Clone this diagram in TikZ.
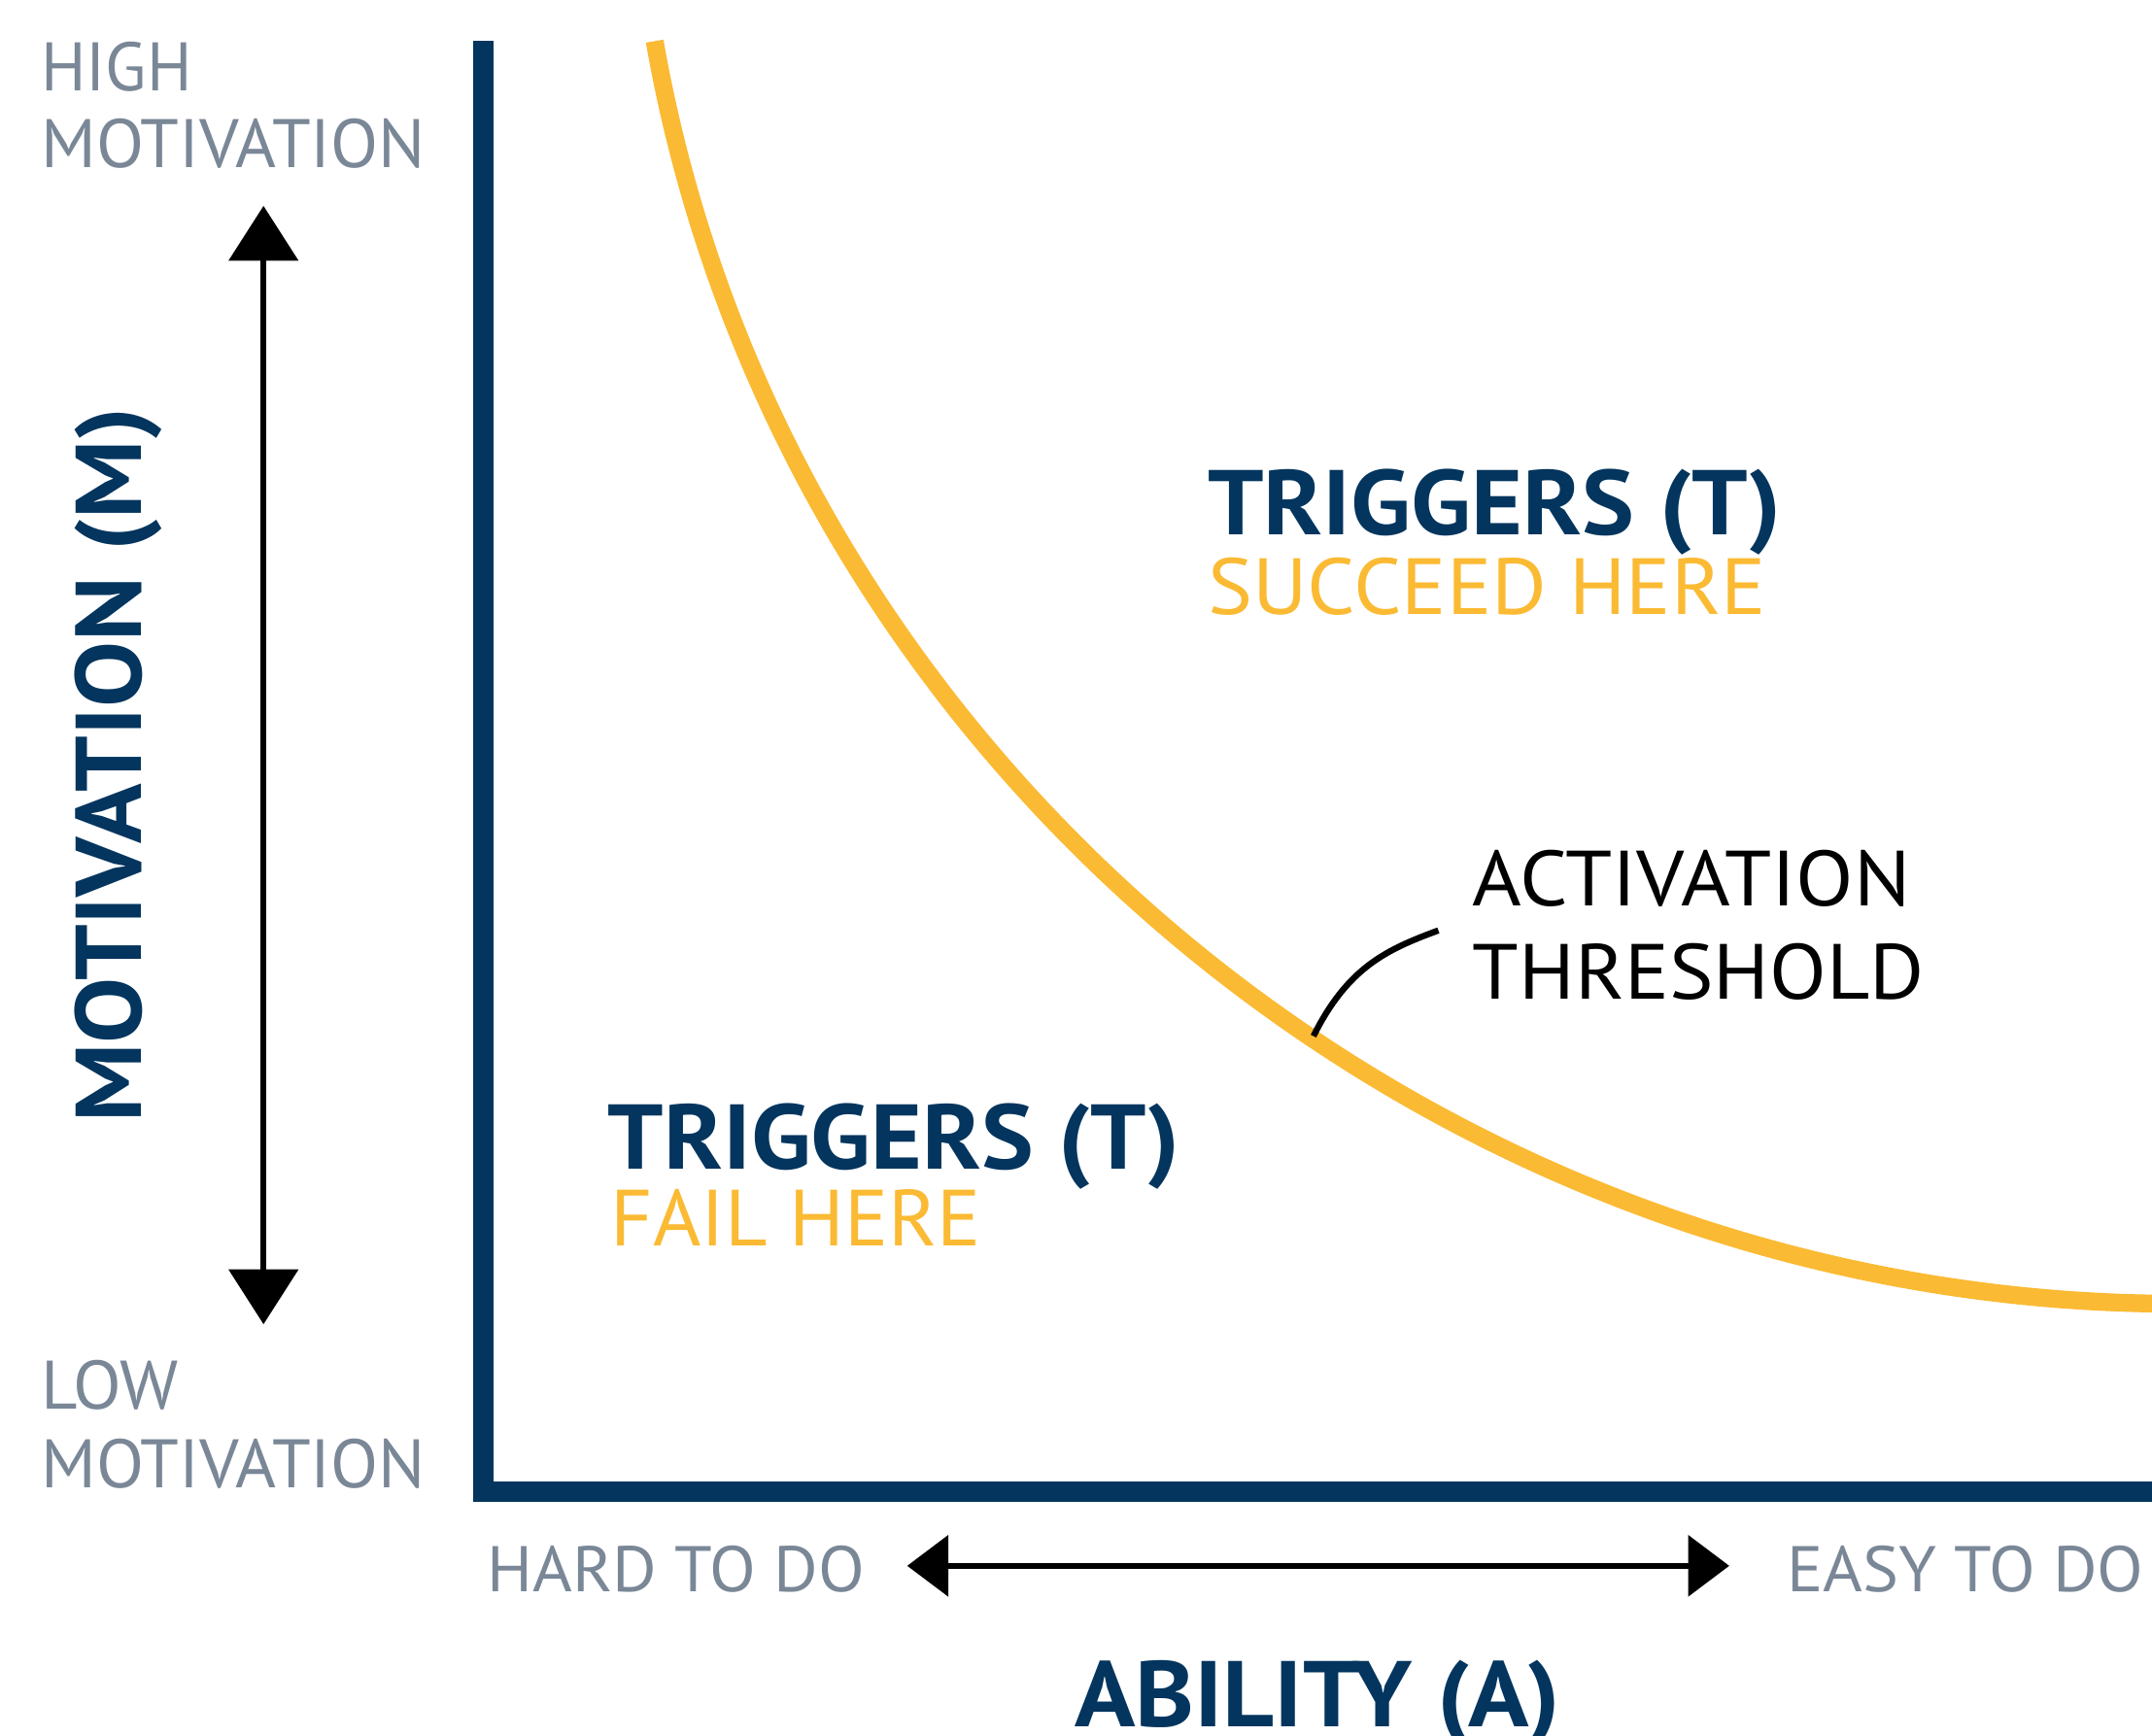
\documentclass[tikz,border=0pt]{standalone}
\usepackage{fontspec}
\setmainfont{PT Sans}
\usetikzlibrary{arrows.meta}

\definecolor{navy}{RGB}{3,53,94}
\definecolor{gold}{RGB}{251,186,51}
\definecolor{slate}{RGB}{122,135,151}

% set a label so that it spans a given width (in pt)
\newlength\fitlen
\newcommand\fitw[2]{\settowidth\fitlen{#2}\pgfmathsetmacro\fitsx{#1/\fitlen}\scalebox{\fitsx}[1]{#2}}

\newcommand\lblbig{\bfseries\fontsize{67}{70}\selectfont}
\newcommand\lblsub{\fontsize{58}{60}\selectfont}
\newcommand\lblnote{\fontsize{57}{60}\selectfont}
\newcommand\lblend{\fontsize{50}{52}\selectfont}
\newcommand\lblease{\fontsize{47}{50}\selectfont}
\newcommand\lblaxis{\bfseries\fontsize{68}{70}\selectfont}

\tikzset{
  lbl/.style={anchor=base west, inner sep=0pt, outer sep=0pt},
  axisline/.style={navy, line width=15pt},
  scaleline/.style={line width=4.5pt, black},
}

\begin{document}
\begin{tikzpicture}[x=1pt, y=-1pt]
  \useasboundingbox (0,0) rectangle (1568,1265);
  \clip (0,0) rectangle (1568,1265);
  \fill[white] (0,0) rectangle (1568,1265);

  % axes
  \coordinate (vtop) at (352,30);
  \coordinate (vbot) at (352,1094);
  \coordinate (hleft) at (345,1087);
  \coordinate (hright) at (1580,1087);
  \draw[axisline] (vtop) -- (vbot);
  \draw[axisline] (hleft) -- (hright);

  % activation threshold curve
  \coordinate (ctop) at (477,30);
  \coordinate (cend) at (1590,950);
  \draw[gold, line width=13pt] (ctop) .. controls (570,560) and (1050,952) .. (cend);

  % callout to the curve
  \coordinate (callA) at (957,755);
  \coordinate (callB) at (1048,678);
  \draw[line width=4.5pt] (callA) .. controls (982,705) and (1010,692) .. (callB);

  % motivation scale
  \coordinate (mtop) at (192,150);
  \coordinate (mbot) at (192,965);
  \draw[scaleline, {Triangle[length=40pt,width=50pt]}-{Triangle[length=40pt,width=50pt]}] (mtop) -- (mbot);

  % ability scale
  \coordinate (aleft) at (661,1141);
  \coordinate (aright) at (1260,1141);
  \draw[scaleline, {Triangle[length=30pt,width=44pt]}-{Triangle[length=30pt,width=44pt]}] (aleft) -- (aright);

  % end labels of the motivation scale
  \node[lbl, text=slate] (high1) at (30,66) {\fitw{110}{\lblend HIGH}};
  \node[lbl, text=slate] (high2) at (30,122) {\fitw{280}{\lblend MOTIVATION}};
  \node[lbl, text=slate] (low1) at (30,1027) {\fitw{100}{\lblend LOW}};
  \node[lbl, text=slate] (low2) at (30,1084) {\fitw{280}{\lblend MOTIVATION}};

  % end labels of the ability scale
  \node[lbl, text=slate] (hard) at (355,1160) {\fitw{275}{\lblease HARD TO DO}};
  \node[lbl, text=slate] (easy) at (1302,1160) {\fitw{260}{\lblease EASY TO DO}};

  % axis titles
  \node[lbl, text=navy, rotate=90] (mtitle) at (103,818) {\fitw{521}{\lblaxis MOTIVATION (M)}};
  \node[lbl, text=navy] (atitle) at (783,1258) {\fitw{354}{\lblaxis ABILITY (A)}};

  % regions
  \node[lbl, text=navy] (tsucc) at (880,390) {\fitw{418}{\lblbig TRIGGERS (T)}};
  \node[lbl, text=gold] (succ) at (880,448) {\fitw{407}{\lblsub SUCCEED HERE}};
  \node[lbl, text=navy] (tfail) at (443,852) {\fitw{417}{\lblbig TRIGGERS (T)}};
  \node[lbl, text=gold] (fail) at (445,908) {\fitw{270}{\lblsub FAIL HERE}};

  % threshold label
  \node[lbl, text=black] (act1) at (1073,660) {\fitw{319}{\lblnote ACTIVATION}};
  \node[lbl, text=black] (act2) at (1073,728) {\fitw{329}{\lblnote THRESHOLD}};
\end{tikzpicture}
\end{document}
